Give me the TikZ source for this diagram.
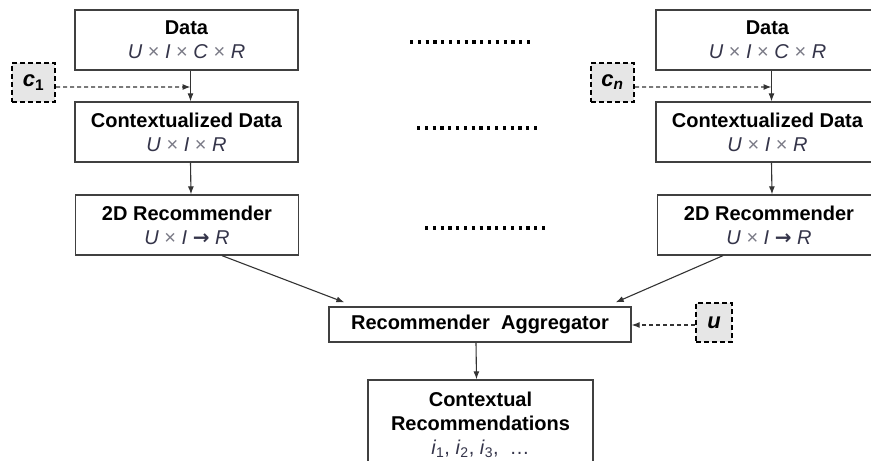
\documentclass[tikz,border=0pt]{standalone}
\usepackage{fontspec}
\setmainfont{Liberation Sans}
\newfontfamily\symfont{DejaVu Sans}
\usetikzlibrary{arrows.meta}
\definecolor{boxc}{HTML}{404040}
\definecolor{linec}{HTML}{333333}
\definecolor{mathc}{HTML}{35354A}
\definecolor{timesc}{HTML}{7A7A86}
\definecolor{ctxgray}{HTML}{E6E6E6}
\newcommand\mv[1]{\textcolor{mathc}{\textit{#1}}}
\newcommand\crossx{\textcolor{timesc}{×}}
\newcommand\rarr{\textcolor{mathc}{{\symfont\bfseries →}}}
\tikzset{
  box/.style={draw=boxc, line width=1.3bp, fill=white, minimum width=223bp,
    minimum height=60bp, align=center, inner sep=0pt,
    font=\fontsize{20bp}{24bp}\selectfont},
  ctxbox/.style={draw=black, line width=2bp, dash pattern=on 5bp off 3bp,
    fill=ctxgray, minimum width=43bp, minimum height=39bp, inner sep=0pt,
    font=\fontsize{22bp}{26bp}\selectfont\bfseries\itshape},
  arr/.style={-{Latex[length=8bp,width=6bp]}, line width=1.1bp, draw=linec},
  darr/.style={arr, dash pattern=on 4bp off 3bp},
  dotrow/.style={line width=3.2bp, draw=black, dash pattern=on 3.2bp off 4.6bp}
}
\begin{document}
\begin{tikzpicture}[x=1bp,y=-1bp]
\useasboundingbox (0,0) rectangle (871,461);
\clip (0,0) rectangle (871,461);

% left column
\node[box] (d1) at (186.5,40) {\textbf{Data}\\\mv{U} \crossx{} \mv{I} \crossx{} \mv{C} \crossx{} \mv{R}};
\node[box] (x1) at (186.5,132) {\textbf{Contextualized Data}\\\mv{U} \crossx{} \mv{I} \crossx{} \mv{R}};
\node[box] (r1) at (187,225) {\textbf{2D Recommender}\\\mv{U} \crossx{} \mv{I} \rarr{} \mv{R}};
\node[ctxbox] (c1) at (33.5,82.5) {c\textsubscript{\upshape 1}};

% right column
\node[box] (d2) at (767.5,40) {\textbf{Data}\\\mv{U} \crossx{} \mv{I} \crossx{} \mv{C} \crossx{} \mv{R}};
\node[box] (x2) at (767.5,132) {\textbf{Contextualized Data}\\\mv{U} \crossx{} \mv{I} \crossx{} \mv{R}};
\node[box] (r2) at (769,225) {\textbf{2D Recommender}\\\mv{U} \crossx{} \mv{I} \rarr{} \mv{R}};
\node[ctxbox] (cn) at (612.5,82.5) {c\textsubscript{n}};

% aggregator and output
\node[box, minimum width=302bp, minimum height=35bp] (agg) at (480,324.5) {\textbf{Recommender\ \ Aggregator}};
\node[ctxbox, minimum width=36bp] (u) at (714,322.5) {u};
\node[box, minimum width=225bp, minimum height=90bp] (rec) at (480.5,425)
  {\textbf{Contextual}\\\textbf{Recommendations}\\\mv{i}\textsubscript{\textcolor{mathc}{1}}\textcolor{mathc}{,} \mv{i}\textsubscript{\textcolor{mathc}{2}}\textcolor{mathc}{,} \mv{i}\textsubscript{\textcolor{mathc}{3}}\textcolor{mathc}{,}\ \ \textcolor{mathc}{…}};

% junction points of the context arrows
\coordinate (j1) at (190.5,87);
\coordinate (j2) at (771.5,87);

% connectors
\draw[arr] ([xshift=4bp]d1.south) -- ([xshift=4bp]x1.north);
\draw[arr] ([xshift=4bp]x1.south) -- ([xshift=4bp]r1.north);
\draw[arr] ([xshift=4bp]d2.south) -- ([xshift=4bp]x2.north);
\draw[arr] ([xshift=4bp]x2.south) -- ([xshift=3bp]r2.north);
\draw[darr] ([yshift=-4.5bp]c1.east) -- (j1);
\draw[darr] ([yshift=-4.5bp]cn.east) -- (j2);
\draw[arr] ([xshift=35bp]r1.south) -- ([xshift=16bp,yshift=4bp]agg.north west);
\draw[arr] ([xshift=-46bp]r2.south) -- ([xshift=-16bp,yshift=4bp]agg.north east);
\draw[darr] ([yshift=-2.5bp]u.west) -- ([yshift=-2.5bp]u.west -| agg.east);
\draw[arr] ([xshift=-4bp]agg.south) -- ([xshift=-4bp]rec.north);

% ellipsis rows
\coordinate (e1a) at (410,42);  \coordinate (e1b) at (531,42);
\coordinate (e2a) at (417,128); \coordinate (e2b) at (538,128);
\coordinate (e3a) at (425,228); \coordinate (e3b) at (546,228);
\draw[dotrow] (e1a) -- (e1b);
\draw[dotrow] (e2a) -- (e2b);
\draw[dotrow] (e3a) -- (e3b);
\end{tikzpicture}
\end{document}
